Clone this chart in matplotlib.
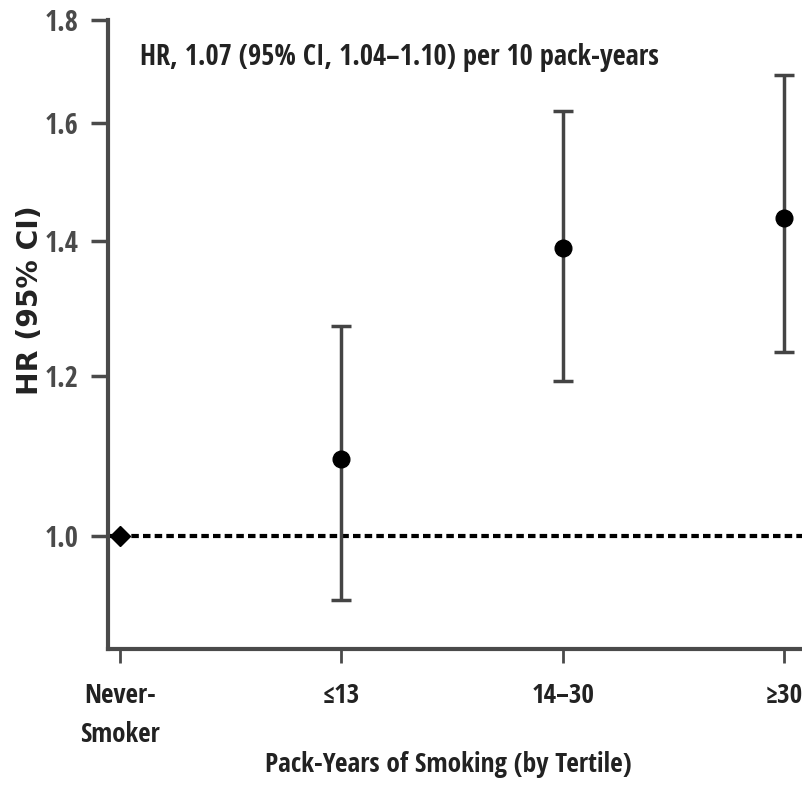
import matplotlib
matplotlib.use("Agg")
import matplotlib.pyplot as plt
from matplotlib import font_manager
from matplotlib.ticker import FixedLocator, FixedFormatter, NullLocator
import numpy as np

categories = ["Never-\nSmoker", "\u226413", "14\u201330", "\u226530"]
hr = [1.0, 1.092, 1.388, 1.437]
ci_low = [None, 0.929, 1.193, 1.233]
ci_high = [None, 1.27, 1.623, 1.69]
yticks = [1.0, 1.2, 1.4, 1.6, 1.8]
ytick_labels = ["1.0", "1.2", "1.4", "1.6", "1.8"]
annotation = "HR, 1.07 (95% CI, 1.04\u20131.10) per 10 pack-years"

names = {f.name for f in font_manager.fontManager.ttflist}
cand = [n for n in ["DejaVu Sans Condensed", "Liberation Sans Narrow", "Open Sans Condensed",
                    "Roboto Condensed", "Lato"] if n in names]
FONT = cand[:1] + ["DejaVu Sans"]
plt.rcParams['font.family'] = FONT

fig = plt.figure(figsize=(8.02, 7.87), dpi=100)
ax = fig.add_axes([108/802, 1-649/787, 1-108/802, (649-20)/787])

ax.set_yscale('log')
ax.set_ylim(0.879, 1.8)
ax.set_xlim(-0.054, 3.08)

spine_col = "#4a4a4a"
x = np.arange(len(categories))

ax.axhline(1.0, xmin=0, xmax=1, color="black", lw=3, linestyle=(0, (1.8, 1.0)), zorder=2)

for i in range(1, len(categories)):
    ax.errorbar(x[i], hr[i], yerr=[[hr[i]-ci_low[i]], [ci_high[i]-hr[i]]],
                fmt='none', ecolor="#444444", elinewidth=2.5, capsize=7, capthick=2.5, zorder=3)
ax.plot(x[1:], hr[1:], 'o', color='black', markersize=12, zorder=4)
ax.plot(x[0], hr[0], 'D', color='black', markersize=10, zorder=4)

ax.yaxis.set_major_locator(FixedLocator(yticks))
ax.yaxis.set_major_formatter(FixedFormatter(ytick_labels))
ax.yaxis.set_minor_locator(NullLocator())
ax.set_xticks(x)
ax.set_xticklabels(categories, linespacing=1.55)

for s in ['top', 'right']:
    ax.spines[s].set_visible(False)
for s in ['left', 'bottom']:
    ax.spines[s].set_color(spine_col)
    ax.spines[s].set_linewidth(3)

ax.tick_params(axis='y', length=12, width=2.5, color=spine_col, labelcolor="#4a4a4a", pad=9)
ax.tick_params(axis='x', length=10, width=2, color=spine_col, labelcolor="#222222", pad=14)

ylab = ax.set_ylabel("HR (95% CI)", fontsize=20, fontweight='bold', family=["DejaVu Sans"], color="#222222")
ax.yaxis.set_label_coords(-0.092, 0.555)
xlab = ax.set_xlabel("Pack-Years of Smoking (by Tertile)", fontsize=19, fontweight='bold', color="#222222")
ax.xaxis.set_label_coords((448-108)/694, (649-765)/629)
xlab.set_va('center')

ann = ax.text(140/802, 1-57/787, annotation, transform=fig.transFigure, fontsize=20, fontweight='bold',
              color="#222222", va='center', ha='left')

# fit text sizes to the reference proportions
fig.canvas.draw()
r = fig.canvas.get_renderer()
def fit(t, target, dim='w'):
    bb = t.get_window_extent(r)
    cur = bb.width if dim == 'w' else bb.height
    t.set_fontsize(t.get_fontsize() * target / cur)
fit(ann, 520)
fit(xlab, 367)
fit(ylab, 190, 'h')
fa = ann.get_fontsize()
for t in ax.get_xticklabels():
    t.set_fontsize(fa * 0.95)
    t.set_fontweight('bold')
for t in ax.get_yticklabels():
    t.set_fontsize(fa * 1.0)
    t.set_fontweight('normal')

fig.savefig("out.png", dpi=100)
